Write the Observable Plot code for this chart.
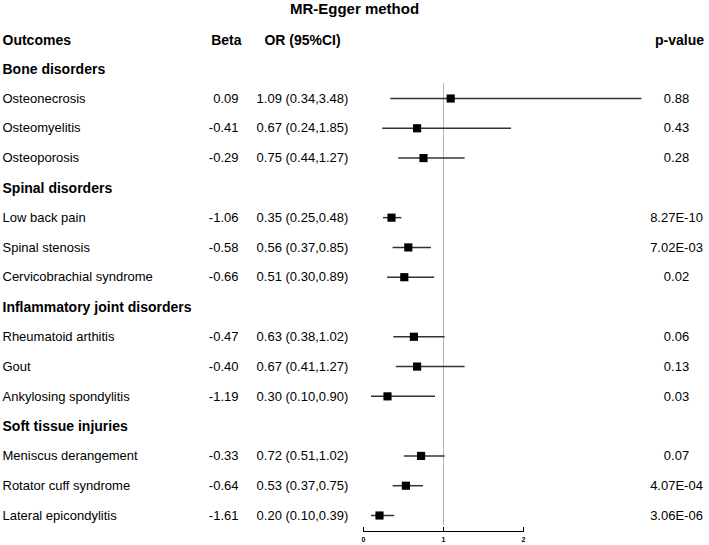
<!DOCTYPE html>
<html>
<head>
<meta charset="utf-8">
<script src="https://cdn.jsdelivr.net/npm/d3@7"></script>
<script src="https://cdn.jsdelivr.net/npm/@observablehq/plot@0.6"></script>
<style>
  html, body { margin: 0; padding: 0; background: #fff; }
</style>
</head>
<body>
<div id="chart"></div>
<script>
const title = "MR-Egger method";
const headers = ["Outcomes", "Beta", "OR (95%CI)", "p-value"];
const groups = ["Bone disorders", "Spinal disorders", "Inflammatory joint disorders", "Soft tissue injuries"];
const groupOf = [0, 0, 0, 1, 1, 1, 2, 2, 2, 3, 3, 3];
const outcomes = ["Osteonecrosis", "Osteomyelitis", "Osteoporosis",
  "Low back pain", "Spinal stenosis", "Cervicobrachial syndrome",
  "Rheumatoid arthitis", "Gout", "Ankylosing spondylitis",
  "Meniscus derangement", "Rotator cuff syndrome", "Lateral epicondylitis"];
const beta = ["0.09", "-0.41", "-0.29", "-1.06", "-0.58", "-0.66", "-0.47", "-0.40", "-1.19", "-0.33", "-0.64", "-1.61"];
const orv = [1.09, 0.67, 0.75, 0.35, 0.56, 0.51, 0.63, 0.67, 0.30, 0.72, 0.53, 0.20];
const lo  = [0.34, 0.24, 0.44, 0.25, 0.37, 0.30, 0.38, 0.41, 0.10, 0.51, 0.37, 0.10];
const hi  = [3.48, 1.85, 1.27, 0.48, 0.85, 0.89, 1.02, 1.27, 0.90, 1.02, 0.75, 0.39];
const pvals = ["0.88", "0.43", "0.28", "8.27E-10", "7.02E-03", "0.02", "0.06", "0.13", "0.03", "0.07", "4.07E-04", "3.06E-06"];
const xTicks = [0, 1, 2];

// Build row table: group heading followed by its outcomes
const headRows = [];
const items = [];
let row = 0;
groups.forEach((g, gi) => {
  headRows.push({label: g, row: row++});
  outcomes.forEach((o, i) => {
    if (groupOf[i] === gi) {
      items.push({label: o, beta: beta[i], or: orv[i], lo: lo[i], hi: hi[i],
        ortext: `${orv[i].toFixed(2)} (${lo[i].toFixed(2)},${hi[i].toFixed(2)})`,
        p: pvals[i], row: row++});
    }
  });
});
const lastRow = row - 1;

const W = 709, H = 545;
const mL = 363, mR = 186;
const colOutcome = 2, colBeta = 238, colOR = 302, colP = 676, colTitle = 354;
const font = "'Liberation Sans', Arial, Helvetica, sans-serif";

const chart = Plot.plot({
  width: W,
  height: H,
  marginLeft: mL,
  marginRight: mR,
  marginTop: 98,
  marginBottom: 14,
  style: {fontFamily: font, background: "#fff", color: "#000"},
  x: {domain: [0, 2], range: [mL, W - mR]},
  y: {domain: [1, lastRow], range: [98, 515], axis: null},
  marks: [
    Plot.ruleX([1], {y1: 0.5, y2: lastRow + 0.35, stroke: "#b5b5b5", strokeWidth: 1}),
    Plot.ruleY(items, {y: "row", x1: "lo", x2: "hi", stroke: "#333", strokeWidth: 1.5}),
    Plot.dot(items, {x: "or", y: "row", symbol: "square", fill: "#000", stroke: "none", r: 4.6}),
    // title
    Plot.text([title], {y: () => -2, text: d => d, frameAnchor: "left", dx: colTitle - mL, dy: 0.5,
      textAnchor: "middle", fontSize: 15, fontWeight: "bold"}),
    // headers
    Plot.text([headers[0]], {y: () => -1, text: d => d, frameAnchor: "left", dx: colOutcome - mL, dy: 1.5,
      textAnchor: "start", fontSize: 14, fontWeight: "bold"}),
    Plot.text([headers[1]], {y: () => -1, text: d => d, frameAnchor: "left", dx: 241 - mL, dy: 1.5,
      textAnchor: "end", fontSize: 14, fontWeight: "bold"}),
    Plot.text([headers[2]], {y: () => -1, text: d => d, frameAnchor: "left", dx: colOR - mL, dy: 1.5,
      textAnchor: "middle", fontSize: 14, fontWeight: "bold"}),
    Plot.text([headers[3]], {y: () => -1, text: d => d, frameAnchor: "left", dx: 679 - mL, dy: 1.5,
      textAnchor: "middle", fontSize: 14, fontWeight: "bold"}),
    // group headings
    Plot.text(headRows, {y: "row", text: "label", frameAnchor: "left", dx: colOutcome - mL, dy: 0.5,
      textAnchor: "start", fontSize: 14, fontWeight: "bold"}),
    // item columns
    Plot.text(items, {y: "row", text: "label", frameAnchor: "left", dx: colOutcome - mL,
      textAnchor: "start", fontSize: 13}),
    Plot.text(items, {y: "row", text: "beta", frameAnchor: "left", dx: colBeta - mL,
      textAnchor: "end", fontSize: 13}),
    Plot.text(items, {y: "row", text: "ortext", frameAnchor: "left", dx: colOR - mL,
      textAnchor: "middle", fontSize: 13}),
    Plot.text(items, {y: "row", text: "p", frameAnchor: "left", dx: colP - mL,
      textAnchor: "middle", fontSize: 13}),
    // axis
    Plot.frame({anchor: "bottom", stroke: "#000", strokeWidth: 1}),
    Plot.axisX({ticks: xTicks, tickSize: -4, tickPadding: 10, fontSize: 7, fontWeight: "bold",
      tickFormat: d => String(d), stroke: "#000", label: null})
  ]
});
document.getElementById("chart").appendChild(chart);
</script>
</body>
</html>
